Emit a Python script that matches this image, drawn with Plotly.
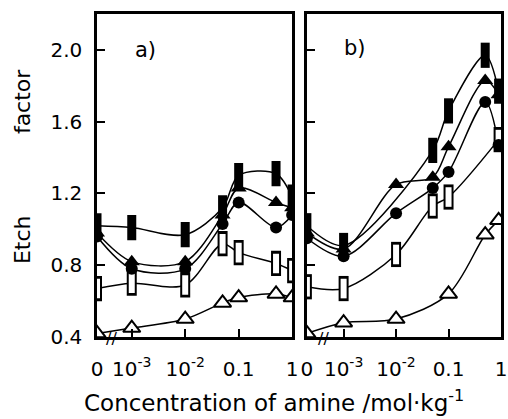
import math
import plotly.graph_objects as go

# ---------------- data ----------------
ZERO_A = 10 ** -3.65   # display position of the "0" concentration (axis break), panel a
ZERO_B = 10 ** -3.7    # panel b

conc_a = [0, 1e-3, 1e-2, 0.05, 0.1, 0.5, 1.0]
sq_a   = [1.02, 1.01, 0.97, 1.12, 1.30, 1.31, 1.18]
tri_a  = [0.98, 0.82, 0.82, 1.08, 1.23, 1.15, 1.12]
cir_a  = [0.96, 0.78, 0.78, 1.03, 1.15, 1.01, 1.08]
rect_a = [0.67, 0.70, 0.69, 0.92, 0.87, 0.81, 0.77]
otri_a = [0.42, 0.45, 0.50, 0.59, 0.62, 0.64, 0.62]

conc_b = [0, 1e-3, 1e-2, 0.05, 0.1, 0.5, 0.9]
sq_b   = [1.02, 0.91, None, 1.44, 1.66, 1.97, 1.77]
tri_b  = [0.98, 0.89, 1.25, 1.29, 1.46, 1.83, 1.75]
cir_b  = [0.95, 0.85, 1.09, 1.23, 1.32, 1.71, 1.47]
rect_b = [0.68, 0.67, 0.86, 1.13, 1.18, None, 1.50]
otri_b = [0.42, 0.48, 0.50, None, 0.64, 0.97, 1.05]

y_ticks = [0.4, 0.8, 1.2, 1.6, 2.0]
y_ticktext = ["0.4", "0.8", "1.2", "1.6", "2.0"]
x_tickconc = [0, 1e-3, 1e-2, 0.1, 1]
x_ticktext = ["0", "10<sup>-3</sup>", "10<sup>-2</sup>", "0.1", "1"]

FONT = "DejaVu Sans"

def disp(xs, zero):
    return [zero if v == 0 else v for v in xs]

fig = go.Figure()

series = [
    ("sq", sq_a, sq_b),
    ("tri", tri_a, tri_b),
    ("cir", cir_a, cir_b),
    ("rect", rect_a, rect_b),
    ("otri", otri_a, otri_b),
]

panels = [("x", "y", conc_a, ZERO_A, 1), ("x2", "y2", conc_b, ZERO_B, 2)]

# lines first
for xa, ya, conc, zero, idx in panels:
    for name, va, vb in series:
        vals = va if idx == 1 else vb
        xs = disp(conc, zero)
        fig.add_trace(go.Scatter(
            x=xs, y=vals, xaxis=xa, yaxis=ya, mode="lines",
            line=dict(color="black", width=1.5, shape="spline", smoothing=0.9),
            connectgaps=True, showlegend=False, hoverinfo="skip"))

# markers
for xa, ya, conc, zero, idx in panels:
    xs = disp(conc, zero)
    v = {n: (a if idx == 1 else b) for n, a, b in series}
    fig.add_trace(go.Scatter(x=xs, y=v["otri"], xaxis=xa, yaxis=ya, mode="markers",
        marker=dict(symbol="triangle-up", size=15, color="white",
                    line=dict(color="black", width=2)), showlegend=False))
    fig.add_trace(go.Scatter(x=xs, y=v["rect"], xaxis=xa, yaxis=ya, mode="markers",
        marker=dict(symbol="line-ns", size=18, line=dict(color="black", width=10)),
        showlegend=False))
    fig.add_trace(go.Scatter(x=xs, y=v["rect"], xaxis=xa, yaxis=ya, mode="markers",
        marker=dict(symbol="line-ns", size=14, line=dict(color="white", width=6)),
        showlegend=False))
    fig.add_trace(go.Scatter(x=xs, y=v["cir"], xaxis=xa, yaxis=ya, mode="markers",
        marker=dict(symbol="circle", size=12, color="black"), showlegend=False))
    fig.add_trace(go.Scatter(x=xs, y=v["tri"], xaxis=xa, yaxis=ya, mode="markers",
        marker=dict(symbol="triangle-up", size=14, color="black"), showlegend=False))
    fig.add_trace(go.Scatter(x=xs, y=v["sq"], xaxis=xa, yaxis=ya, mode="markers",
        marker=dict(symbol="line-ns", size=18, line=dict(color="black", width=9)),
        showlegend=False))

common_y = dict(range=[0.4, 2.2], tickvals=y_ticks, ticks="inside", ticklen=8,
                tickwidth=2, tickcolor="black", showline=True, linewidth=2.5,
                linecolor="black", mirror=True, showgrid=False, zeroline=False,
                tickfont=dict(family=FONT, size=20, color="black"))
common_x = dict(type="log", ticks="inside", ticklen=8, tickwidth=2, tickcolor="black",
                showline=True, linewidth=2.5, linecolor="black", mirror=True,
                showgrid=False, zeroline=False,
                tickfont=dict(family=FONT, size=20, color="black"),
                ticklabelstandoff=12)

fig.update_layout(
    width=508, height=419,
    margin=dict(l=97, r=1, t=14, b=82),
    paper_bgcolor="white", plot_bgcolor="white",
    xaxis=dict(domain=[0, 0.483], range=[math.log10(ZERO_A), 0],
               tickvals=disp(x_tickconc, ZERO_A), ticktext=x_ticktext, **common_x),
    xaxis2=dict(domain=[0.5195, 1.0], range=[math.log10(ZERO_B), 0],
                tickvals=disp(x_tickconc, ZERO_B), ticktext=x_ticktext, anchor="y2", **common_x),
    yaxis=dict(ticktext=y_ticktext, ticklabelstandoff=8, **common_y),
    yaxis2=dict(anchor="x2", showticklabels=False, **common_y),
)

pw, ph = 508 - 97 - 1, 419 - 14 - 82

def px2paper(px, py):
    return (px - 97) / pw, 1 - (py - 14) / ph

def add_text(text, px, py, size, angle=0):
    x, y = px2paper(px, py)
    fig.add_annotation(text=text, x=x, y=y, xref="paper", yref="paper",
                       showarrow=False, xanchor="center", yanchor="middle",
                       textangle=angle, font=dict(family=FONT, size=size, color="black"))

add_text("a)", 146, 50, 21)
add_text("b)", 359, 48, 21)
add_text("//", 112, 338, 16)
add_text("//", 327, 338, 16)
add_text("factor", 21, 102, 22, -90)
add_text("Etch", 21, 240, 22, -90)
add_text("Concentration of amine /mol·kg<sup>-1</sup>", 277, 401, 23)

fig.write_html("out.html")
